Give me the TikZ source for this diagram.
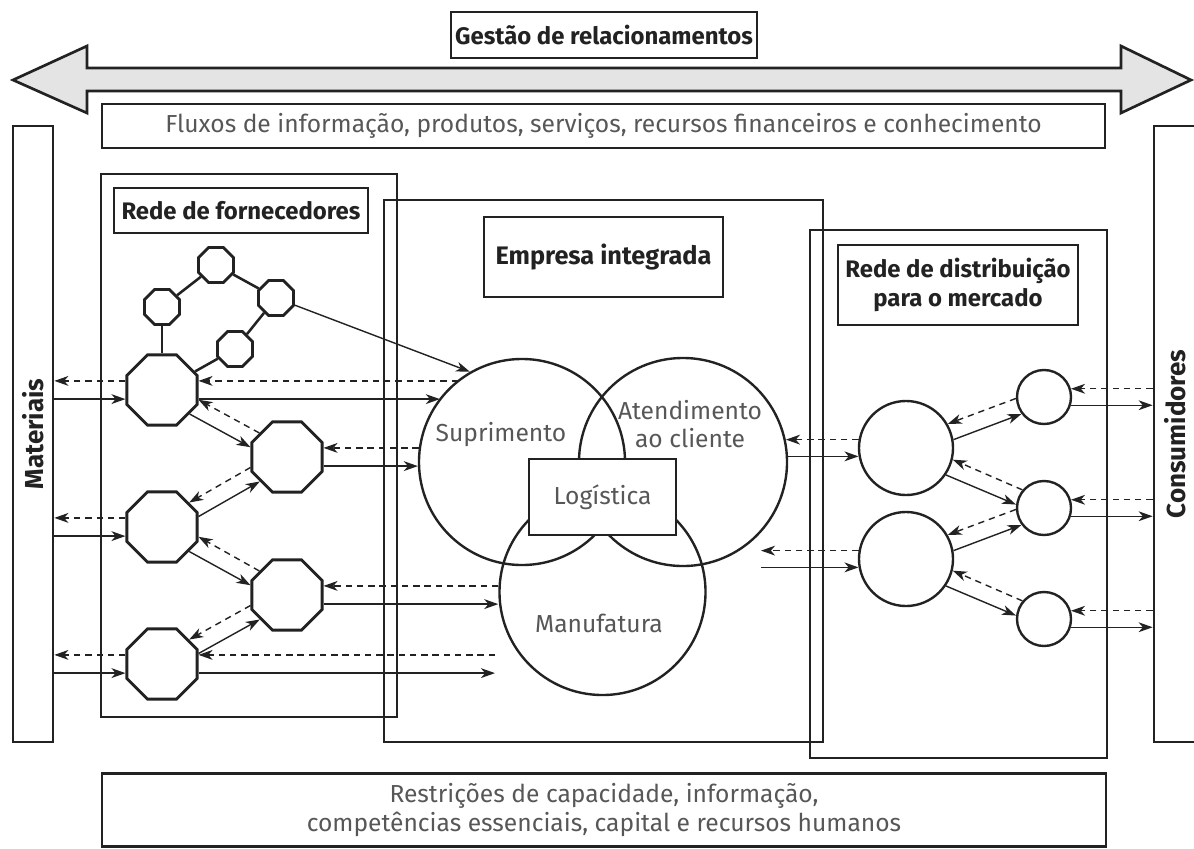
\documentclass[tikz,border=0pt]{standalone}
\usepackage{fontspec}
\setmainfont{Fira Sans}
\usetikzlibrary{shapes.geometric,arrows.meta,calc}
\definecolor{ink}{HTML}{222222}
\definecolor{txt}{HTML}{575757}
\definecolor{band}{HTML}{E4E4E4}

\begin{document}
\begin{tikzpicture}[x=0.025cm,y=-0.025cm,
		box/.style={draw=ink,line width=1.9pt},
		lbl/.style={box,font=\fontsize{17}{20}\selectfont\bfseries,text=ink,align=center,inner sep=0pt},
		plain/.style={font=\fontsize{17.5}{20}\selectfont,text=txt,align=center,inner sep=0pt},
		side/.style={rotate=90,font=\fontsize{18.5}{20}\selectfont\bfseries,text=ink},
		oct/.style={regular polygon,regular polygon sides=8,draw=ink,line width=2pt,fill=white,inner sep=0pt,minimum size=1.9cm},
		soct/.style={oct,minimum size=0.95cm},
		ring/.style={circle,draw=ink,line width=1.7pt,inner sep=0pt},
		flow/.style={draw=ink,line width=1pt,-{Stealth[length=10pt,width=7pt,inset=3pt]}},
		back/.style={flow,dash pattern=on 4.5pt off 3.5pt},
		link/.style={draw=ink,line width=1.8pt}]
		\useasboundingbox (0,0) rectangle (1194,848);
		% Relationship band
		\filldraw[fill=band,draw=ink,line width=1.9pt] (13,80) -- (87,46) -- (87,68) -- (1121,68) -- (1121,46)
		-- (1191,80) -- (1121,113) -- (1121,91) -- (87,91) -- (87,113) -- cycle;
		\node[lbl,fill=white,minimum width=7.65cm,minimum height=1.15cm] (gest) at (604,35) {Gestão de relacionamentos};
		\node[box,plain,minimum width=25.075cm,minimum height=1.1cm] (flux) at (603.5,126)
		{Fluxos de informação, produtos, serviços, recursos financeiros e conhecimento};
		% Side bars
		\node[box,minimum width=1cm,minimum height=15.4cm] (mat) at (33,434) {};
		\node[side] (tmat) at (mat) {Materiais};
		\node[box,minimum width=1.05cm,minimum height=15.4cm] (con) at (1175,434) {};
		\node[side] (tcon) at (con) {Consumidores};
		% Frames
		\draw[box] (101,174) rectangle (397,717);
		\draw[box] (384,200) rectangle (823,742);
		\draw[box] (810,230) rectangle (1107,758);
		\node[lbl,minimum width=6.35cm,minimum height=1.125cm] (lforn) at (241,210.5) {Rede de fornecedores};
		\node[lbl,font=\fontsize{18}{20}\selectfont\bfseries,minimum width=5.975cm,minimum height=2cm] (lemp) at (603.5,257) {Empresa integrada};
		\node[lbl,minimum width=6cm,minimum height=2cm] (ldist) at (958,285) {Rede de distribuição\\para o mercado};
		% Integrated firm
		\node[ring,minimum size=5.15cm] (sup) at (522,462) {};
		\node[ring,minimum size=5.2cm] (ate) at (683,462) {};
		\node[ring,minimum size=5.15cm] (man) at (602.5,592) {};
		\node[plain] (tsup) at (501,435) {Suprimento};
		\node[plain] (tate) at (690,424) {Atendimento\\ao cliente};
		\node[plain] (tman) at (599,623) {Manufatura};
		\node[box,plain,fill=white,minimum width=3.675cm,minimum height=1.9cm] (log) at (602.5,497) {Logística};
		% Suppliers
		\foreach \n/\x/\y in {1/162/390,2/287/457,3/162/527,4/287/595,5/162/664}
		\node[oct] (o\n) at (\x,\y) {};
		\foreach \n/\x/\y in {1/216/265,2/162/307,3/276/298,4/235/349}
		\node[soct] (s\n) at (\x,\y) {};
		\draw[link] (s2) -- (s1);
		\draw[link] (s1) -- (s3);
		\draw[link] (s3) -- (s4);
		\draw[link] (s4) -- (o1);
		\draw[link] (s2) -- (o1);
		\draw[flow] (s3) -- (sup.120);
		% Distribution
		\node[ring,minimum size=2.35cm] (d1) at (906,448) {};
		\node[ring,minimum size=2.35cm] (d2) at (906,559) {};
		\foreach \n/\y in {1/397,2/508,3/619}
		\node[ring,minimum size=1.35cm] (c\n) at (1044,\y) {};
		% Free ends
		\coordinate (fm) at (495,664);
		\coordinate (fd) at (761,559);
		% Flows on the supply side
		\foreach \n in {1,3,5}{
				\draw[back] (o\n.166) -- (mat.east |- o\n.166);
				\draw[flow] (mat.east |- o\n.194) -- (o\n.194);
			}
		\draw[back] (sup.128 |- o1.14) -- (o1.14);
		\draw[flow] (o1.346) -- (sup.142 |- o1.346);
		\draw[back] (sup.172 |- o2.14) -- (o2.14);
		\draw[flow] (o2.346) -- (sup.182 |- o2.346);
		\draw[back] (man.west |- o4.14) -- (o4.14);
		\draw[flow] (o4.346) -- (man.west |- o4.346);
		\draw[back] (fm |- o5.14) -- (o5.14);
		\draw[flow] (o5.346) -- (fm |- o5.346);
		\draw[flow] (o1.319) -- (o2.165);
		\draw[back] (o2.139) -- (o1.345);
		\draw[flow] (o3.16) -- (o2.222);
		\draw[back] (o2.196) -- (o3.42);
		\draw[flow] (o3.318) -- (o4.165);
		\draw[back] (o4.139) -- (o3.345);
		\draw[flow] (o5.16) -- (o4.222);
		\draw[back] (o4.196) -- (o5.42);
		% Flows on the market side
		\draw[back] (d1.170) -- (ate.12 |- d1.170);
		\draw[flow] (ate.3 |- d1.190) -- (d1.190);
		\draw[back] (d2.170) -- (fd |- d2.170);
		\draw[flow] (fd |- d2.190) -- (d2.190);
		\draw[flow] (d1.10) -- (c1.217);
		\draw[back] (c1.183) -- (d1.30);
		\draw[flow] (d1.326) -- (c2.173);
		\draw[back] (c2.140) -- (d1.346);
		\draw[flow] (d2.10) -- (c2.217);
		\draw[back] (c2.183) -- (d2.30);
		\draw[flow] (d2.326) -- (c3.173);
		\draw[back] (c3.140) -- (d2.346);
		\foreach \n in {1,2,3}{
				\draw[back] (con.west |- c\n.17) -- (c\n.17);
				\draw[flow] (c\n.343) -- (con.west |- c\n.343);
			}
		% Constraints
		\node[box,plain,minimum width=25.1cm,minimum height=1.825cm] (restr) at (604,810)
		{Restrições de capacidade, informação,\\competências essenciais, capital e recursos humanos};
	\end{tikzpicture}
\end{document}
